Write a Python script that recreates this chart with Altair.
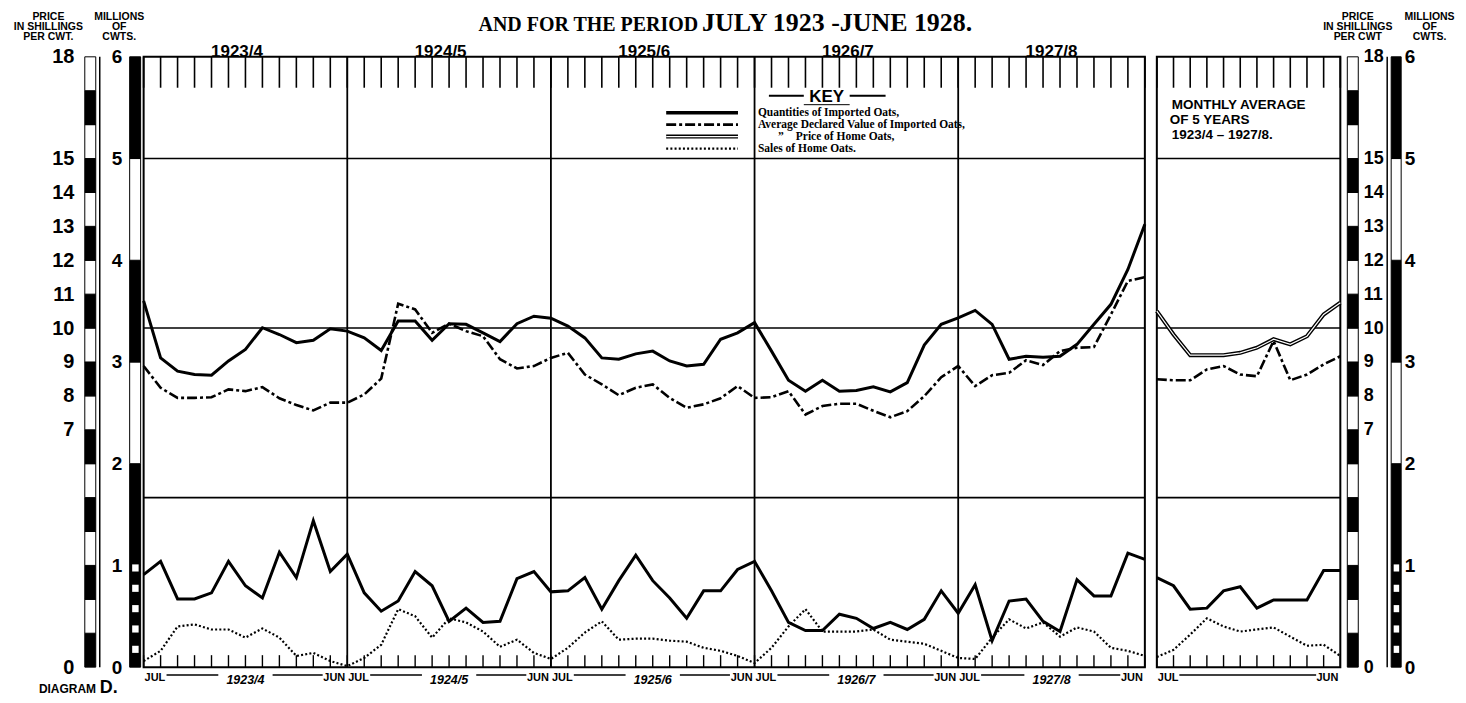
import altair as alt
import pandas as pd

# ---------------- data ----------------
MONTHS = ["JUL", "AUG", "SEP", "OCT", "NOV", "DEC", "JAN", "FEB", "MAR", "APR", "MAY", "JUN"]
YEARS = ["1923/4", "1924/5", "1925/6", "1926/7", "1927/8"]

# millions of cwts
imported_qty = [0.91, 1.04, 0.67, 0.67, 0.73, 1.04, 0.80, 0.68, 1.13, 0.88, 1.44, 0.94,
                1.11, 0.73, 0.55, 0.65, 0.94, 0.80, 0.45, 0.58, 0.44, 0.45, 0.87, 0.94,
                0.74, 0.75, 0.88, 0.57, 0.85, 1.10, 0.85, 0.68, 0.48, 0.75, 0.75, 0.96,
                1.04, 0.75, 0.44, 0.36, 0.36, 0.52, 0.48, 0.38, 0.44, 0.37, 0.47, 0.75,
                0.53, 0.81, 0.26, 0.65, 0.67, 0.45, 0.35, 0.86, 0.70, 0.70, 1.12, 1.06]
home_sales = [0.06, 0.16, 0.40, 0.42, 0.37, 0.37, 0.29, 0.38, 0.29, 0.11, 0.14, 0.06,
              0.01, 0.09, 0.22, 0.57, 0.50, 0.29, 0.48, 0.44, 0.35, 0.20, 0.27, 0.14,
              0.08, 0.19, 0.34, 0.45, 0.27, 0.28, 0.28, 0.26, 0.25, 0.19, 0.16, 0.11,
              0.04, 0.19, 0.40, 0.57, 0.35, 0.35, 0.35, 0.37, 0.27, 0.25, 0.23, 0.16,
              0.09, 0.08, 0.29, 0.47, 0.38, 0.44, 0.30, 0.39, 0.35, 0.19, 0.16, 0.11]
# shillings per cwt
declared_value = [8.88, 8.24, 7.94, 7.94, 7.96, 8.19, 8.14, 8.26, 7.93, 7.73, 7.57, 7.80,
                  7.80, 8.04, 8.51, 10.72, 10.55, 9.86, 10.13, 9.91, 9.76, 9.08, 8.81, 8.88,
                  9.12, 9.27, 8.63, 8.34, 8.02, 8.24, 8.34, 7.94, 7.65, 7.75, 7.93, 8.29,
                  7.94, 7.96, 8.14, 7.45, 7.70, 7.77, 7.77, 7.56, 7.37, 7.55, 7.99, 8.55,
                  8.88, 8.29, 8.61, 8.68, 9.05, 8.91, 9.32, 9.42, 9.44, 10.40, 11.39, 11.50]
home_price = [10.80, 9.12, 8.73, 8.63, 8.61, 9.03, 9.37, 10.01, 9.81, 9.57, 9.64, 9.98,
              9.91, 9.71, 9.34, 10.21, 10.21, 9.64, 10.13, 10.11, 9.86, 9.60, 10.13, 10.35,
              10.29, 10.06, 9.71, 9.12, 9.08, 9.24, 9.32, 9.03, 8.88, 8.93, 9.67, 9.86,
              10.16, 9.32, 8.46, 8.14, 8.46, 8.14, 8.16, 8.27, 8.12, 8.39, 9.50, 10.11,
              10.30, 10.52, 10.11, 9.08, 9.17, 9.14, 9.17, 9.52, 10.11, 10.70, 11.73, 13.06]

# monthly average of 5 years
avg_qty = [0.88, 0.80, 0.57, 0.58, 0.75, 0.79, 0.58, 0.66, 0.66, 0.66, 0.95, 0.95]
avg_sales = [0.10, 0.17, 0.32, 0.48, 0.40, 0.35, 0.37, 0.39, 0.30, 0.21, 0.22, 0.11]
avg_value = [8.49, 8.46, 8.46, 8.78, 8.88, 8.63, 8.58, 9.62, 8.46, 8.63, 8.93, 9.17]
avg_price = [10.50, 9.81, 9.20, 9.20, 9.20, 9.27, 9.42, 9.67, 9.52, 9.76, 10.40, 10.75]

PRICE_TICKS = [0, 7, 8, 9, 10, 11, 12, 13, 14, 15, 18]
MILLION_TICKS = [0, 1, 2, 3, 4, 5, 6]
GRID_SHILLINGS = [5, 10, 15]
KEY_LABELS = ["Quantities of Imported Oats,", "Average Declared Value of Imported Oats,",
              "Price of Home Oats,", "Sales of Home Oats."]

# ---------------- layout / style ----------------
SANS = "Liberation Sans"
SERIF = "Liberation Serif"
H = 612
W_MAIN = 1004
W_AVG = 184
SP = 12

price_scale = alt.Scale(domain=[0, 18], nice=False, zero=False)
mill_scale = alt.Scale(domain=[0, 6], nice=False, zero=False)

SALES_DASH = [2, 2.2]
VALUE_DASH = [10, 3, 3, 3]


def one():
    return pd.DataFrame({"k": [0]})


def txt(text, x, y, size, align="left", font=SANS, weight="bold", baseline="alphabetic"):
    return alt.Chart(pd.DataFrame({"t": [text]})).mark_text(
        align=align, baseline=baseline, font=font, fontSize=size,
        fontWeight=weight, color="black"
    ).encode(text="t:N", x=alt.value(x), y=alt.value(y))


def hrule(x1, x2, y, width=1.5, dash=None, color="black"):
    kw = dict(color=color, strokeWidth=width)
    if dash:
        kw["strokeDash"] = dash
    return alt.Chart(one()).mark_rule(**kw).encode(
        x=alt.value(x1), x2=alt.value(x2), y=alt.value(y))


def data_panel(n, width, qty, sales, value, price, spans, boundaries, top_labels, double_price, extra):
    df = pd.DataFrame({"m": list(range(n)), "qty": qty, "sales": sales,
                       "value": value, "price": price})
    xs = alt.Scale(domain=[0, n - 1], nice=False, zero=False)
    X = alt.X("m:Q", scale=xs, axis=None)
    layers = []
    layers.append(alt.Chart(pd.DataFrame({"s": GRID_SHILLINGS})).mark_rule(
        color="black", strokeWidth=1.6).encode(
        y=alt.Y("s:Q", scale=price_scale, axis=None), x=alt.value(0), x2=alt.value(width)))
    if boundaries:
        layers.append(alt.Chart(pd.DataFrame({"m": boundaries})).mark_rule(
            color="black", strokeWidth=1.8).encode(x=X, y=alt.value(0), y2=alt.value(H)))
    ticks = pd.DataFrame({"m": list(range(n))})
    layers.append(alt.Chart(ticks).mark_rule(color="black", strokeWidth=1.6).encode(
        x=X, y=alt.value(0), y2=alt.value(31)))
    layers.append(alt.Chart(ticks).mark_rule(color="black", strokeWidth=1.4).encode(
        x=X, y=alt.value(H - 12), y2=alt.value(H)))

    base = alt.Chart(df)
    layers.append(base.mark_line(color="black", strokeWidth=2.2, strokeDash=SALES_DASH).encode(
        x=X, y=alt.Y("sales:Q", scale=mill_scale, axis=None)))
    layers.append(base.mark_line(color="black", strokeWidth=3).encode(
        x=X, y=alt.Y("qty:Q", scale=mill_scale, axis=None)))
    layers.append(base.mark_line(color="black", strokeWidth=2.6, strokeDash=VALUE_DASH).encode(
        x=X, y=alt.Y("value:Q", scale=price_scale, axis=None)))
    layers.append(base.mark_line(color="black", strokeWidth=4 if double_price else 3).encode(
        x=X, y=alt.Y("price:Q", scale=price_scale, axis=None)))
    if double_price:
        layers.append(base.mark_line(color="white", strokeWidth=1.2).encode(
            x=X, y=alt.Y("price:Q", scale=price_scale, axis=None)))

    # bottom labels JUL ---- year ---- JUN
    sp = pd.DataFrame(spans, columns=["s", "e", "lab"])
    sp["jul"] = MONTHS[0]
    sp["jun"] = MONTHS[-1]
    sp["c"] = (sp["s"] + sp["e"]) / 2
    layers.append(alt.Chart(sp).mark_text(align="left", font=SANS, fontSize=11, fontWeight="bold",
                                          color="black", dx=1).encode(
        x=alt.X("s:Q", scale=xs, axis=None), y=alt.value(H + 11), text="jul:N"))
    layers.append(alt.Chart(sp).mark_text(align="right", font=SANS, fontSize=11, fontWeight="bold",
                                          color="black", dx=-2).encode(
        x=alt.X("e:Q", scale=xs, axis=None), y=alt.value(H + 11), text="jun:N"))
    segs = []
    for s, e, lab in spans:
        if lab:
            c = (s + e) / 2
            segs += [(s + 1.35, c - 1.6), (c + 1.6, e - 1.45)]
        else:
            segs += [(s + 1.35, e - 1.45)]
    segdf = pd.DataFrame(segs, columns=["a", "b"])
    layers.append(alt.Chart(segdf).mark_rule(color="black", strokeWidth=1.5).encode(
        x=alt.X("a:Q", scale=xs, axis=None), x2="b:Q", y=alt.value(H + 8)))
    labdf = sp[sp["lab"].notna()]
    if len(labdf):
        layers.append(alt.Chart(labdf).mark_text(align="center", font=SANS, fontSize=12.5,
                                                 fontWeight="bold", fontStyle="italic",
                                                 color="black").encode(
            x=alt.X("c:Q", scale=xs, axis=None), y=alt.value(H + 13), text="lab:N"))
    if top_labels:
        tl = pd.DataFrame({"lab": [l for _, _, l in spans], "s": [s for s, _, _ in spans]})
        tl["c"] = tl["s"].clip(upper=n - 1) + 5.5
        layers.append(alt.Chart(tl).mark_text(align="center", font=SANS, fontSize=17,
                                              fontWeight="bold", color="black").encode(
            x=alt.X("c:Q", scale=xs, axis=None), y=alt.value(-5), text="lab:N"))
    layers += extra
    return alt.layer(*layers).resolve_scale(y="independent").properties(width=width, height=H)


# ---------------- main panel ----------------
main_spans = []
for i, y in enumerate(YEARS):
    main_spans.append((12 * i, min(12 * i + 12, 59), y))
boundaries = [12 * i for i in range(1, len(YEARS))]

key_layers = [
    txt("AND FOR THE PERIOD", 556, -26, 20, align="right", font=SERIF),
    txt("JULY 1923 -JUNE 1928.", 560, -26, 26, align="left", font=SERIF),
    txt("KEY", 685, 45, 17, align="center"),
    hrule(627, 662, 39, 2), hrule(708, 744, 39, 2), hrule(662, 708, 48, 1),
    hrule(524, 596, 56, 3.5),
    hrule(524, 596, 68, 2.6, VALUE_DASH),
    hrule(524, 596, 80, 4), hrule(524, 596, 80, 1.2, color="white"),
    hrule(524, 596, 92, 2.2, SALES_DASH),
    txt(KEY_LABELS[0], 616, 59, 11.5, font=SERIF),
    txt(KEY_LABELS[1], 616, 71, 11.5, font=SERIF),
    txt("\u201d", 636, 83, 11.5, font=SERIF),
    txt(KEY_LABELS[2], 654, 83, 11.5, font=SERIF),
    txt(KEY_LABELS[3], 616, 95, 11.5, font=SERIF),
]
C = data_panel(60, W_MAIN, imported_qty, home_sales, declared_value, home_price,
               main_spans, boundaries, True, False, key_layers)

avg_layers = [
    txt("MONTHLY AVERAGE", 15, 52, 13.5),
    txt("OF 5 YEARS", 13, 67, 13.5),
    txt("1923/4 \u2013 1927/8.", 15, 82, 13.5),
]
D = data_panel(12, W_AVG, avg_qty, avg_sales, avg_value, avg_price,
               [(0, 11, None)], [], False, True, avg_layers)


# ---------------- rulers ----------------
def axis_for(values, orient, offset, pad, size, title, title_x):
    return alt.Axis(orient=orient, values=values, offset=offset, labelPadding=pad,
                    labelFont=SANS, labelFontSize=size, labelFontWeight="bold",
                    labelColor="black", labelFlush=False, labelOverlap=False,
                    domain=False, ticks=False, tickSize=0, grid=False,
                    title=title, titleAngle=0, titleAlign="center", titleBaseline="top",
                    titleX=title_x, titleY=-45, titleFont=SANS, titleFontSize=10.5,
                    titleFontWeight="bold", titleLineHeight=10, titleColor="black")


def price_ruler(width, bx0, bx1, line_x, axis, extra=()):
    seg = pd.DataFrame({"lo": list(range(18))})
    seg["hi"] = seg["lo"] + 1
    seg["c"] = ["black" if k % 2 == 0 else "white" for k in range(18)]
    layers = [alt.Chart(seg).mark_rect(stroke="black", strokeWidth=1).encode(
        y=alt.Y("lo:Q", scale=price_scale, axis=axis), y2="hi:Q",
        x=alt.value(bx0), x2=alt.value(bx1), fill=alt.Fill("c:N", scale=None))]
    if line_x is not None:
        layers.append(alt.Chart(one()).mark_rule(color="black", strokeWidth=1.5).encode(
            x=alt.value(line_x), y=alt.value(0), y2=alt.value(H)))
    layers += list(extra)
    return alt.layer(*layers).properties(width=width, height=H,
                                         view=alt.ViewBackground(stroke="transparent"))


def million_ruler(width, bx0, bx1, line_x, axis):
    seg = pd.DataFrame({"lo": list(range(6))})
    seg["hi"] = seg["lo"] + 1
    seg["c"] = ["white" if k in (2, 4) else "black" for k in range(6)]
    sq = pd.DataFrame({"lo": [0.14 + 0.2 * j for j in range(5)]})
    sq["hi"] = sq["lo"] + 0.07
    layers = [
        alt.Chart(seg).mark_rect(stroke="black", strokeWidth=1).encode(
            y=alt.Y("lo:Q", scale=mill_scale, axis=axis), y2="hi:Q",
            x=alt.value(bx0), x2=alt.value(bx1), fill=alt.Fill("c:N", scale=None)),
        alt.Chart(sq).mark_rect(color="white").encode(
            y=alt.Y("lo:Q", scale=mill_scale, axis=axis), y2="hi:Q",
            x=alt.value(bx0 + 2.5), x2=alt.value(bx1 - 2)),
    ]
    if line_x is not None:
        layers.append(alt.Chart(one()).mark_rule(color="black", strokeWidth=1.5).encode(
            x=alt.value(line_x), y=alt.value(0), y2=alt.value(H)))
    return alt.layer(*layers).properties(width=width, height=H,
                                         view=alt.ViewBackground(stroke="transparent"))


A = price_ruler(28, 10, 21, 25,
                axis_for(PRICE_TICKS, "left", 0, 1, 20, ["PRICE", "IN SHILLINGS", "PER CWT."], -27),
                extra=[txt("DIAGRAM", -36, H + 26, 12), txt("D.", 25, H + 26, 18)])
B = million_ruler(17, 15, 26, None,
                  axis_for(MILLION_TICKS, "left", -12, 5, 19, ["MILLIONS", "OF", "CWTS."], -8))
E = price_ruler(9, -5, 6, None,
                axis_for(PRICE_TICKS, "right", 0, 2, 18, ["PRICE", "IN SHILLINGS", "PER CWT"], -4))
F = million_ruler(30, 18, 28, 14,
                  axis_for(MILLION_TICKS, "right", 0, 1, 19, ["MILLIONS", "OF", "CWTS."], 26))

chart = alt.hconcat(A, B, C, D, E, F, spacing=SP, bounds="flush").properties(
    padding={"left": 4, "top": 0, "right": 2, "bottom": 0}
).configure_view(stroke="black", strokeWidth=2).configure_axis(
    labelFlush=False, labelOverlap=False, grid=False, domain=False, ticks=False
)

chart.save("out.html", embed_options={"renderer": "svg", "actions": False})
